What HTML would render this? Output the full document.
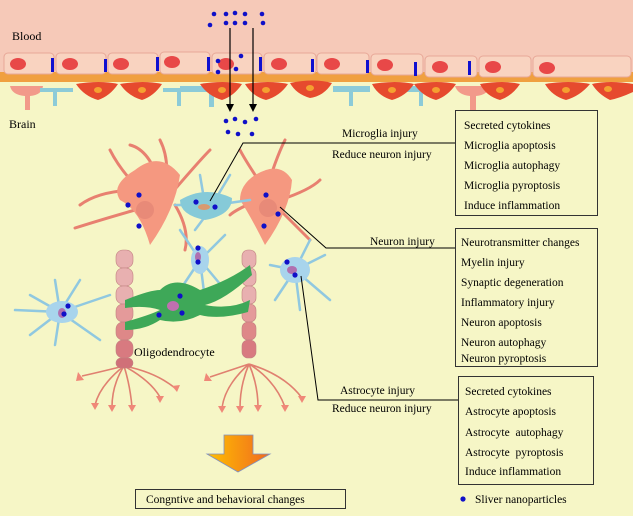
<!DOCTYPE html>
<html><head><style>
body{margin:0;background:#f6f6c6;}
svg{display:block;font-family:"Liberation Serif",serif;}
</style></head><body>
<svg width="633" height="516" viewBox="0 0 633 516" xmlns="http://www.w3.org/2000/svg">
<defs>
<linearGradient id="ag" x1="0" x2="1"><stop offset="0" stop-color="#ffc000"/><stop offset="1" stop-color="#f06a20"/></linearGradient>
</defs>
<rect x="0" y="0" width="633" height="516" fill="#f6f6c6"/>
<rect x="0" y="0" width="633" height="82" fill="#f6c9b8"/>
<rect x="0" y="72" width="633" height="10" fill="#f0a040"/>
<g fill="#f9d3c0" stroke="#e8a898" stroke-width="1">
<rect x="4" y="53" width="50" height="21" rx="4"/><rect x="56" y="53" width="50" height="21" rx="4"/>
<rect x="108" y="53" width="50" height="21" rx="4"/><rect x="160" y="52" width="50" height="22" rx="4"/>
<rect x="212" y="53" width="50" height="21" rx="4"/><rect x="264" y="53" width="52" height="21" rx="4"/>
<rect x="317" y="53" width="52" height="21" rx="4"/><rect x="371" y="54" width="52" height="21" rx="4"/>
<rect x="425" y="56" width="52" height="21" rx="4"/><rect x="479" y="56" width="52" height="21" rx="4"/><rect x="533" y="56" width="98" height="21" rx="4"/>
</g>
<g fill="#e84848">
<ellipse cx="18" cy="64" rx="8" ry="6"/><ellipse cx="70" cy="64" rx="8" ry="6"/><ellipse cx="121" cy="64" rx="8" ry="6"/>
<ellipse cx="172" cy="62" rx="8" ry="6"/><ellipse cx="226" cy="64" rx="8" ry="6"/><ellipse cx="279" cy="64" rx="8" ry="6"/>
<ellipse cx="332" cy="64" rx="8" ry="6"/><ellipse cx="385" cy="65" rx="8" ry="6"/><ellipse cx="440" cy="67" rx="8" ry="6"/>
<ellipse cx="493" cy="67" rx="8" ry="6"/><ellipse cx="547" cy="68" rx="8" ry="6"/>
</g>
<g fill="#1010d0">
<rect x="51" y="58" width="3" height="14"/><rect x="104" y="59" width="3" height="13"/><rect x="156" y="57" width="3" height="14"/>
<rect x="207" y="57" width="3" height="14"/><rect x="259" y="57" width="3" height="14"/><rect x="311" y="59" width="3" height="13"/>
<rect x="366" y="60" width="3" height="13"/><rect x="414" y="62" width="3" height="14"/><rect x="468" y="61" width="3" height="14"/>
</g>
<g>
<path d="M10 86 H43 Q42 95 30 96 V110 H25 V96 Q12 95 10 86Z" fill="#f29a8a"/>
<path d="M40 88 H73 V92 H57 V106 H53 V92 H40Z" fill="#8ccbd8"/>
<path d="M163 88 H196 V92 H181 V106 H177 V92 H163Z" fill="#8ccbd8"/>
<path d="M180 86 H232 V92 H214 V107 H209 V92 H180Z" fill="#8ccbd8"/>
<path d="M333 86 H370 V92 H353 V106 H349 V92 H333Z" fill="#8ccbd8"/>
<path d="M405 86 H438 V92 H423 V106 H419 V92 H405Z" fill="#8ccbd8"/>
<path d="M455 86 H490 Q488 95 476 96 V110 H470 V96 Q458 95 455 86Z" fill="#f29a8a"/>
</g>
<g fill="#e64a2e">
<path d="M76 84 Q100 80 118 84 Q110 96 98 100 Q84 96 76 84Z"/>
<path d="M120 84 Q144 80 162 84 Q154 96 142 100 Q128 96 120 84Z"/>
<path d="M200 84 Q224 80 242 84 Q234 96 222 100 Q208 96 200 84Z"/>
<path d="M245 84 Q269 80 288 84 Q280 96 266 100 Q252 96 245 84Z"/>
<path d="M290 83 Q314 78 332 83 Q324 96 310 98 Q296 94 290 83Z"/>
<path d="M372 84 Q396 80 414 84 Q406 96 392 100 Q378 96 372 84Z"/>
<path d="M414 84 Q438 80 456 84 Q448 96 436 100 Q422 96 414 84Z"/>
<path d="M480 84 Q504 80 520 84 Q512 96 500 100 Q486 96 480 84Z"/>
<path d="M545 84 Q569 80 590 84 Q580 96 566 100 Q552 96 545 84Z"/>
<path d="M592 84 Q610 80 633 84 V92 Q620 98 610 100 Q598 94 592 84Z"/>
</g>
<g fill="#f5a030"><ellipse cx="98" cy="90" rx="4" ry="3"/><ellipse cx="142" cy="90" rx="4" ry="3"/><ellipse cx="222" cy="90" rx="4" ry="3"/><ellipse cx="266" cy="90" rx="4" ry="3"/><ellipse cx="310" cy="88" rx="4" ry="3"/><ellipse cx="392" cy="90" rx="4" ry="3"/><ellipse cx="436" cy="90" rx="4" ry="3"/><ellipse cx="500" cy="90" rx="4" ry="3"/><ellipse cx="566" cy="90" rx="4" ry="3"/><ellipse cx="608" cy="89" rx="4" ry="3"/></g>
<text x="12" y="40" font-size="12">Blood</text>
<text x="9" y="128" font-size="12">Brain</text>
<g stroke="#000" stroke-width="1.2"><line x1="230" y1="28" x2="230" y2="108"/><line x1="253" y1="28" x2="253" y2="108"/></g>
<path d="M226 104 L230 112 L234 104Z M249 104 L253 112 L257 104Z"/>
<g fill="#1010c8">
<circle cx="214" cy="14" r="2.3"/><circle cx="226" cy="14" r="2.3"/><circle cx="235" cy="13" r="2.3"/><circle cx="245" cy="14" r="2.3"/><circle cx="262" cy="14" r="2.3"/>
<circle cx="210" cy="25" r="2.3"/><circle cx="226" cy="23" r="2.3"/><circle cx="235" cy="23" r="2.3"/><circle cx="245" cy="23" r="2.3"/><circle cx="263" cy="23" r="2.3"/>
<circle cx="218" cy="61" r="2.3"/><circle cx="241" cy="56" r="2.3"/><circle cx="218" cy="72" r="2.3"/><circle cx="236" cy="69" r="2.3"/>
<circle cx="226" cy="121" r="2.3"/><circle cx="235" cy="119" r="2.3"/><circle cx="245" cy="122" r="2.3"/><circle cx="256" cy="119" r="2.3"/>
<circle cx="228" cy="132" r="2.3"/><circle cx="238" cy="134" r="2.3"/><circle cx="252" cy="134" r="2.3"/>
</g>
<g stroke="#e88070" stroke-width="3" fill="none" stroke-linecap="round">
<path d="M140 190 Q120 170 110 150 M140 190 Q100 190 80 205 M135 210 Q100 220 75 228 M165 185 Q170 160 160 140 M160 185 Q150 150 130 145 M170 195 Q200 160 210 150 M175 205 Q190 230 185 250"/>
<path d="M265 195 Q275 160 285 140 M265 190 Q245 160 240 150 M280 200 Q310 190 320 180 M280 210 Q300 230 310 240 M258 200 Q235 210 230 215"/>
</g>
<g stroke="#e08070" stroke-width="1.6" fill="none">
<path d="M124 366 Q100 372 82 376 M124 366 Q100 385 95 405 M124 366 Q112 385 112 407 M124 366 Q130 385 132 407 M124 366 Q150 380 160 397 M124 366 Q155 372 175 388"/>
<path d="M249 364 Q225 372 210 377 M249 364 Q225 385 222 408 M249 364 Q240 385 240 408 M249 364 Q258 385 258 407 M249 364 Q275 380 285 407 M249 364 Q285 375 302 398"/>
</g>
<g fill="#f08878">
<path d="M78 372 L84 380 L76 381Z"/><path d="M91 403 L99 403 L95 410Z"/><path d="M108 405 L116 405 L112 412Z"/><path d="M128 405 L136 405 L132 412Z"/><path d="M156 396 L164 396 L160 403Z"/><path d="M172 386 L180 385 L177 392Z"/>
<path d="M206 373 L212 381 L204 381Z"/><path d="M218 406 L226 406 L222 413Z"/><path d="M236 406 L244 406 L240 413Z"/><path d="M254 405 L262 405 L258 412Z"/><path d="M281 405 L289 405 L285 412Z"/><path d="M298 396 L306 396 L302 403Z"/>
</g>
<path d="M135 170 Q160 150 180 175 Q175 210 150 245 Q140 210 120 200 Q110 185 135 170Z" fill="#f59880"/>
<path d="M255 175 Q280 160 292 180 Q290 210 265 245 Q250 215 240 200 Q240 185 255 175Z" fill="#f59880"/>
<circle cx="145" cy="210" r="9" fill="#e88a78"/><circle cx="268" cy="208" r="9" fill="#e88a78"/>
<g fill="#e8b0b0" stroke="#c08080" stroke-width="0.6">
<rect x="116" y="250" width="17" height="18" rx="7"/><rect x="116" y="268" width="17" height="18" rx="7"/><rect x="116" y="286" width="17" height="18" rx="7"/><rect x="116" y="304" width="17" height="18" rx="7" fill="#e49a9a"/><rect x="116" y="322" width="17" height="18" rx="7" fill="#de8888"/><rect x="116" y="340" width="17" height="18" rx="7" fill="#d87a80"/><rect x="116" y="358" width="17" height="10" rx="5" fill="#d07078"/>
<rect x="242" y="250" width="14" height="18" rx="6"/><rect x="242" y="268" width="14" height="18" rx="6"/><rect x="242" y="286" width="14" height="18" rx="6"/><rect x="242" y="304" width="14" height="18" rx="6" fill="#e49a9a"/><rect x="242" y="322" width="14" height="18" rx="6" fill="#de8888"/><rect x="242" y="340" width="14" height="18" rx="6" fill="#d87a80"/>
</g>
<g stroke="#90c8e0" stroke-width="2.5" fill="none" stroke-linecap="round">
<path d="M60 312 L15 310 M60 312 L30 295 M60 312 L55 280 M60 312 L80 280 M60 312 L110 295 M60 312 L100 340 M60 312 L55 345 M60 312 L30 335"/>
<path d="M200 260 L180 230 M200 260 L225 235 M200 260 L180 290 M200 260 L225 290 M200 260 L205 300"/>
<path d="M295 270 L270 265 M295 270 L310 240 M295 270 L325 255 M295 270 L330 300 M295 270 L300 310 M295 270 L275 300"/>
<path d="M205 205 L175 205 M215 205 L250 200 M205 205 L200 175 M215 200 L230 175 M210 210 L195 230"/>
</g>
<ellipse cx="62" cy="312" rx="16" ry="11" fill="#a8d4ec"/>
<ellipse cx="200" cy="260" rx="9" ry="14" fill="#a8d4ec"/>
<ellipse cx="295" cy="270" rx="15" ry="13" fill="#a8d4ec"/>
<path d="M180 200 Q205 185 232 198 Q232 215 205 220 Q180 215 180 200Z" fill="#86cad8"/>
<ellipse cx="204" cy="207" rx="6" ry="3" fill="#d89a70"/>
<path d="M125 300 Q150 290 160 290 Q175 275 200 290 Q230 280 250 265 L252 275 Q225 300 205 305 Q230 310 250 300 L248 312 Q220 320 200 315 Q180 325 160 320 Q145 330 125 330 L125 322 Q150 315 160 310 Q145 305 125 308Z" fill="#3ea858"/>
<ellipse cx="173" cy="306" rx="6" ry="5" fill="#c070b0"/>
<ellipse cx="62" cy="313" rx="4" ry="5" fill="#b070b0"/><ellipse cx="198" cy="257" rx="3" ry="5" fill="#b070b0"/><ellipse cx="292" cy="270" rx="5" ry="4" fill="#b070b0"/>
<g fill="#1010c8">
<circle cx="128" cy="205" r="2.6"/><circle cx="139" cy="195" r="2.6"/><circle cx="139" cy="226" r="2.6"/>
<circle cx="196" cy="202" r="2.6"/><circle cx="215" cy="207" r="2.6"/>
<circle cx="266" cy="195" r="2.6"/><circle cx="278" cy="214" r="2.6"/><circle cx="264" cy="226" r="2.6"/>
<circle cx="198" cy="248" r="2.6"/><circle cx="198" cy="262" r="2.6"/>
<circle cx="68" cy="306" r="2.6"/><circle cx="64" cy="314" r="2.6"/>
<circle cx="180" cy="296" r="2.6"/><circle cx="159" cy="315" r="2.6"/><circle cx="182" cy="313" r="2.6"/>
<circle cx="287" cy="262" r="2.6"/><circle cx="295" cy="275" r="2.6"/>
</g>
<text x="134" y="356" font-size="12">Oligodendrocyte</text>
<g stroke="#000" stroke-width="1" fill="none">
<polyline points="210,201 243,143 456,143"/>
<polyline points="280,207 326,248 456,248"/>
<polyline points="301,276 318,400 458,400"/>
</g>
<g font-size="11.5">
<text x="342" y="137">Microglia injury</text>
<text x="332" y="158">Reduce neuron injury</text>
<text x="370" y="245">Neuron injury</text>
<text x="340" y="394">Astrocyte injury</text>
<text x="332" y="412">Reduce neuron injury</text>
</g>
<g fill="none" stroke="#333" stroke-width="1"><rect x="455.5" y="110.5" width="142" height="105"/><rect x="455.5" y="228.5" width="142" height="138"/><rect x="458.5" y="376.5" width="135" height="108"/><rect x="135.5" y="489.5" width="210" height="19"/></g>
<g font-size="11.5">
<text x="464" y="129">Secreted cytokines</text><text x="464" y="149">Microglia apoptosis</text><text x="464" y="169">Microglia autophagy</text><text x="464" y="189">Microglia pyroptosis</text><text x="464" y="209">Induce inflammation</text>
<text x="461" y="246">Neurotransmitter changes</text><text x="461" y="266">Myelin injury</text><text x="461" y="286">Synaptic degeneration</text><text x="461" y="306">Inflammatory injury</text><text x="461" y="326">Neuron apoptosis</text><text x="461" y="346">Neuron autophagy</text><text x="461" y="362">Neuron pyroptosis</text>
<text x="465" y="395">Secreted cytokines</text><text x="465" y="415">Astrocyte apoptosis</text><text x="465" y="436">Astrocyte &#160;autophagy</text><text x="465" y="456">Astrocyte &#160;pyroptosis</text><text x="465" y="475">Induce inflammation</text>
<text x="146" y="503">Congntive and behavioral changes</text>
<text x="475" y="503">Sliver nanoparticles</text>
</g>
<circle cx="463" cy="499" r="2.6" fill="#1010c8"/>
<path d="M224 435 H253 V454 H270 L238 472 L207 454 H224Z" fill="url(#ag)" stroke="#8090c0" stroke-width="0.8"/>
</svg>
</body></html>
